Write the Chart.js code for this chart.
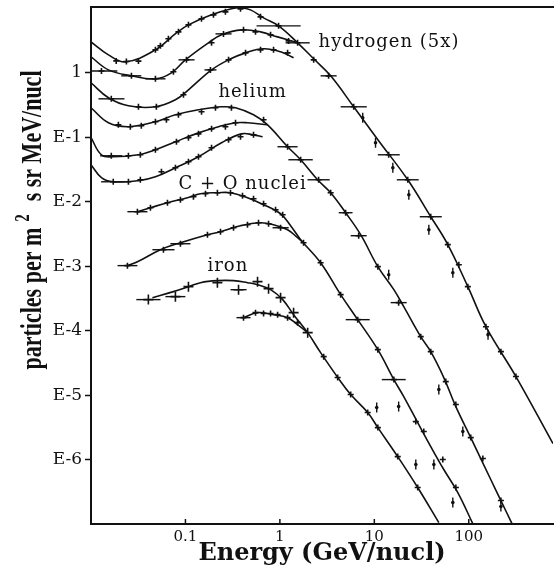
<!DOCTYPE html>
<html>
<head>
<meta charset="utf-8">
<script src="https://cdn.jsdelivr.net/npm/chart.js@4.4.0/dist/chart.umd.min.js"></script>
<style>
  html, body { margin: 0; padding: 0; background: #fff; }
</style>
</head>
<body>
<canvas id="spectrum" width="554" height="570"></canvas>
<script>
// axis ticks
const xTickValues = [0.1, 1, 10, 100];
const xTickLabels = ['0.1', '1', '10', '100'];
const yTickValues = [1, 1e-1, 1e-2, 1e-3, 1e-4, 1e-5, 1e-6];
const yTickLabels = ['1', 'E-1', 'E-2', 'E-3', 'E-4', 'E-5', 'E-6'];

// fitted curves (energy GeV/nucl, flux)
const hCurve1E = [0.01, 0.0153, 0.0232, 0.0481, 0.0803, 0.1076, 0.189, 0.307, 0.383, 0.489, 0.672, 0.969, 1.54, 2.28, 3.45, 6.05, 10.9, 22.6, 39.6, 60.0, 97.8, 152, 316, 780];
const hCurve1F = [3.02, 1.90, 1.48, 2.27, 4.17, 5.55, 7.93, 9.83, 10.2, 9.48, 7.12, 5.35, 2.92, 1.65, 0.898, 0.297, 0.0915, 0.0219, 0.00585, 0.00216, 0.000481, 0.000115, 0.0000194, 0.00000177];
const hCurve2E = [0.01, 0.0153, 0.0268, 0.0481, 0.0711, 0.1, 0.175, 0.241, 0.393, 0.624, 0.946, 1.54];
const hCurve2F = [1.77, 1.11, 0.898, 0.807, 1.0, 1.59, 2.92, 3.88, 4.64, 4.32, 3.61, 2.92];
const hCurve3E = [0.01, 0.0153, 0.0249, 0.0481, 0.0783, 0.1076, 0.189, 0.286, 0.433, 0.672, 1.017, 1.397];
const hCurve3F = [0.700, 0.410, 0.308, 0.297, 0.381, 0.545, 1.11, 1.59, 2.04, 2.36, 2.12, 1.71];

const heCurve1E = [0.01, 0.0153, 0.0249, 0.0481, 0.0783, 0.1374, 0.241, 0.339, 0.526, 0.741, 1.207, 1.66, 2.51, 3.45, 4.97, 7.17, 10.9, 16.1, 20.5, 31.0, 39.6, 54.4, 73.0, 105, 171, 219, 286];
const heCurve1F = [0.287, 0.168, 0.146, 0.174, 0.223, 0.267, 0.297, 0.287, 0.223, 0.156, 0.0713, 0.0448, 0.0219, 0.0138, 0.00675, 0.00308, 0.000983, 0.000432, 0.000236, 0.0000807, 0.0000472, 0.0000187, 0.00000664, 0.00000219, 0.00000049, 0.000000231, 0.000000102];
const heCurve2E = [0.01, 0.0129, 0.0172, 0.0318, 0.0481, 0.0783, 0.1374, 0.224, 0.339, 0.454, 0.741];
const heCurve2F = [0.0983, 0.0535, 0.0499, 0.0535, 0.0640, 0.0851, 0.117, 0.146, 0.168, 0.168, 0.156];
const heCurve3E = [0.01, 0.0129, 0.0172, 0.0318, 0.0481, 0.0783, 0.1374, 0.241, 0.393, 0.526, 0.656];
const heCurve3F = [0.0375, 0.0236, 0.0204, 0.0212, 0.0244, 0.0337, 0.0499, 0.0822, 0.113, 0.109, 0.102];

const coCurve1E = [0.031, 0.0426, 0.0645, 0.105, 0.1443, 0.218, 0.300, 0.454, 0.672, 1.017, 1.299, 1.66, 2.70, 4.40, 6.67, 10.9, 16.1, 20.5, 28.8, 39.6, 54.4, 76.6, 110];
const coCurve1F = [0.00700, 0.00807, 0.00965, 0.0115, 0.0133, 0.0138, 0.0138, 0.0115, 0.00898, 0.00651, 0.00425, 0.00258, 0.00113, 0.000362, 0.000148, 0.0000507, 0.0000174, 0.00000948, 0.00000375, 0.00000159, 0.0000007, 0.000000308, 0.000000102];
const coCurve2E = [0.0243, 0.031, 0.0543, 0.0885, 0.171, 0.235, 0.383, 0.624, 0.857, 1.207, 1.54, 1.78];
const coCurve2F = [0.00102, 0.00117, 0.00180, 0.00231, 0.00308, 0.00343, 0.00425, 0.00472, 0.00440, 0.00368, 0.00277, 0.00231];

const feCurve1E = [0.0447, 0.0746, 0.1076, 0.1443, 0.218, 0.323, 0.454, 0.580, 0.797, 1.07, 1.397, 1.97, 2.70, 4.40, 5.62, 8.51, 10.9, 17.7, 28.8, 48.2];
const feCurve1F = [0.000325, 0.000403, 0.000481, 0.000555, 0.000596, 0.000596, 0.000555, 0.000516, 0.000432, 0.000303, 0.000177, 0.0000931, 0.0000456, 0.0000162, 0.0000102, 0.00000536, 0.00000313, 0.00000111, 0.000000368, 0.000000105];
const feCurve2E = [0.412, 0.580, 0.857, 1.207, 1.54, 1.97];
const feCurve2F = [0.000159, 0.000190, 0.000177, 0.000159, 0.000124, 0.0000931];

// measured points, with energy bins where a bar is drawn
const hMarkE = [0.0185, 0.0237, 0.0318, 0.0481, 0.0543, 0.066, 0.0843, 0.1076, 0.148, 0.198, 0.265, 0.383, 0.624, 0.969, 1.54,
  0.0129, 0.0268, 0.0481, 0.0746, 0.1025, 0.189, 0.253, 0.412, 0.552, 0.797, 1.236,
  0.0164, 0.0318, 0.0492, 0.0953, 0.184, 0.286, 0.433, 0.624, 0.857, 1.207,
  2.28, 3.28, 6.05, 14.2, 22.6, 39.6, 60.0, 78.5, 97.8, 152, 219, 316];
const hMarkF = [1.53, 1.50, 1.52, 2.27, 2.62, 3.37, 4.32, 5.55, 6.87, 7.93, 8.83, 9.83, 7.38, 5.35, 2.92,
  1.07, 0.898, 0.807, 1.04, 1.59, 2.92, 4.02, 4.64, 4.32, 3.88, 3.13,
  0.395, 0.297, 0.297, 0.456, 1.11, 1.59, 2.04, 2.27, 2.27, 2.04,
  1.59, 0.898, 0.297, 0.0535, 0.0219, 0.00585, 0.00216, 0.00105, 0.000481, 0.000115, 0.0000472, 0.0000194];
const hBarLo = [null, null, null, null, null, null, null, null, null, null, null, null, null, 0.566, 1.15,
  0.0087, 0.0209, 0.0376, null, 0.0844, null, 0.208, null, null, null, null,
  0.012, null, null, null, 0.159, null, null, null, null, null,
  null, 2.70, 4.40, 10.9, 17.3, 30.3, null, null, null, null, null, null];
const hBarHi = [null, null, null, null, null, null, null, null, null, null, null, null, null, 1.66, 2.07,
  0.019, 0.0341, 0.0615, null, 0.125, null, 0.308, null, null, null, null,
  0.0226, null, null, null, 0.213, null, null, null, null, null,
  null, 3.99, 8.32, 18.6, 29.5, 51.8, null, null, null, null, null, null];

const heMarkE = [0.0195, 0.0261, 0.0341, 0.0481, 0.0629, 0.0843, 0.148, 0.208, 0.307,
  0.0164, 0.0249, 0.0333, 0.0481, 0.0803, 0.1076, 0.1374, 0.189, 0.265, 0.339,
  0.0172, 0.0249, 0.0333, 0.0557, 0.0783, 0.1076, 0.1374, 0.189, 0.286, 0.383, 0.526,
  0.672, 1.207, 1.66, 2.57, 3.45, 4.97, 6.83, 10.9, 18.1, 31.0, 39.6, 57.1, 73.0, 105, 141, 219];
const heMarkF = [0.156, 0.146, 0.151, 0.174, 0.187, 0.223, 0.249, 0.287, 0.287,
  0.0516, 0.0516, 0.0535, 0.064, 0.0851, 0.0983, 0.113, 0.135, 0.146, 0.168,
  0.0204, 0.0204, 0.0219, 0.0292, 0.0337, 0.0417, 0.0499, 0.0688, 0.0915, 0.102, 0.109,
  0.187, 0.0713, 0.0448, 0.0219, 0.0138, 0.00675, 0.00297, 0.000983, 0.000272, 0.0000807, 0.0000472, 0.0000162, 0.00000713, 0.00000219, 0.00000104, 0.000000231];
const heBarLo = [null, null, null, null, null, null, null, null, null,
  0.0125, null, null, null, null, null, null, null, null, null,
  0.0128, null, null, null, null, null, null, null, null, null, null,
  null, 0.943, 1.23, 1.96, null, 4.20, 5.62, null, 14.9, null, null, null, null, null, null, null];
const heBarHi = [null, null, null, null, null, null, null, null, null,
  0.0214, null, null, null, null, null, null, null, null, null,
  0.023, null, null, null, null, null, null, null, null, null, null,
  null, 1.54, 2.23, 3.37, null, 5.88, 8.30, null, 22.0, null, null, null, null, null, null, null];

const coMarkE = [0.031, 0.0426, 0.0645, 0.0885, 0.1216, 0.163, 0.218, 0.300, 0.402, 0.526, 0.672, 0.900, 1.07,
  0.0243, 0.0585, 0.0885, 0.171, 0.235, 0.323, 0.454, 0.594, 0.759, 1.017,
  1.78, 2.70, 4.40, 6.67, 10.9, 16.1, 27.5, 33.4, 53.1, 73.0];
const coMarkF = [0.007, 0.00807, 0.00965, 0.0107, 0.012, 0.0133, 0.0138, 0.0138, 0.0124, 0.0111, 0.00931, 0.00752, 0.00629,
  0.00102, 0.0018, 0.00223, 0.00308, 0.00343, 0.00395, 0.0044, 0.00472, 0.00456, 0.00395,
  0.00231, 0.00113, 0.000362, 0.000148, 0.0000507, 0.0000174, 0.00000388, 0.00000272, 0.000001, 0.000000368];
const coBarLo = [0.0243, null, null, null, null, null, null, null, null, null, null, null, null,
  0.0191, 0.0447, 0.0692, null, null, null, null, null, null, 0.837,
  null, null, null, 4.98, null, 12.0, null, null, null, null];
const coBarHi = [0.0396, null, null, null, null, null, null, null, null, null, null, null, null,
  0.031, 0.0766, 0.113, null, null, null, null, null, null, 1.24,
  null, null, null, 8.93, null, 21.5, null, null, null, null];

const feMarkE = [0.0405, 0.0783, 0.1076, 0.218, 0.365, 0.580, 0.759, 1.017, 1.397, 1.97,
  0.412, 0.552, 0.672, 0.797, 0.946, 1.207, 1.54,
  2.91, 4.09, 5.62, 8.51, 10.9, 17.7, 28.8];
const feMarkF = [0.000303, 0.000337, 0.000481, 0.000555, 0.000432, 0.000575, 0.000448, 0.000325, 0.00019, 0.0000931,
  0.000159, 0.00019, 0.000184, 0.000184, 0.000177, 0.000159, 0.000133,
  0.0000395, 0.0000187, 0.0000102, 0.00000536, 0.00000313, 0.00000111, 0.000000368];
const feBarLo = [0.0302, 0.0614, null, null, 0.300, null, null, null, null, null,
  0.347, null, null, null, null, null, null,
  null, null, null, null, null, null, null];
const feBarHi = [0.0544, 0.0999, null, null, 0.444, null, null, null, null, null,
  0.489, null, null, null, null, null, null,
  null, null, null, null, null, null, null];

// scattered points off the curves (vertical error bars)
const offMarkE = [7.54, 10.3, 15.7, 23.2, 37.8, 67.8, 160, 14.2, 48.2, 86.5, 219, 10.6, 18.1, 27.5, 42.7, 67.8];
const offMarkF = [0.201, 0.0822, 0.0337, 0.0128, 0.00368, 0.000793, 0.0000867, 0.000738, 0.0000122, 0.00000272, 0.000000187, 0.0000064, 0.00000664, 0.000000836, 0.000000836, 0.000000216];

// curve labels
const labelText = ['hydrogen (5x)', 'helium', 'C + O nuclei', 'iron'];
const labelE = [2.57, 0.224, 0.0843, 0.171];
const labelF = [2.92, 0.49, 0.0184, 0.000983];

const ink = '#111';

function pts(E, F) {
  return E.map((e, i) => ({ x: e, y: F[i] }));
}

function curve(E, F) {
  return {
    data: pts(E, F),
    showLine: true,
    pointRadius: 0,
    borderColor: ink,
    borderWidth: 1.6,
    tension: 0.4,
    fill: false
  };
}

function marks(E, F, lo, hi, big) {
  return {
    data: pts(E, F),
    showLine: false,
    pointStyle: 'cross',
    pointRadius: c => (c.dataIndex < big ? 5 : 3),
    borderColor: ink,
    borderWidth: 1.6,
    barLo: lo,
    barHi: hi
  };
}

// horizontal bars, top frame line, inward x ticks, y title, curve labels
const decorPlugin = {
  id: 'decor',
  afterDatasetsDraw(chart) {
    const { ctx, chartArea, scales: { x, y } } = chart;
    ctx.save();
    ctx.beginPath();
    ctx.rect(chartArea.left, chartArea.top, chartArea.right - chartArea.left, chartArea.bottom - chartArea.top);
    ctx.clip();
    ctx.strokeStyle = ink;
    ctx.lineWidth = 1.4;
    chart.data.datasets.forEach(ds => {
      if (!ds.barLo) return;
      ds.data.forEach((p, i) => {
        if (ds.barLo[i] == null) return;
        const py = y.getPixelForValue(p.y);
        ctx.beginPath();
        ctx.moveTo(x.getPixelForValue(ds.barLo[i]), py);
        ctx.lineTo(x.getPixelForValue(ds.barHi[i]), py);
        ctx.stroke();
      });
    });
    ctx.restore();
  },
  afterDraw(chart) {
    const { ctx, chartArea, scales: { x, y } } = chart;
    ctx.save();
    ctx.strokeStyle = ink;
    ctx.lineWidth = 2;
    ctx.beginPath();
    ctx.moveTo(chartArea.left - 1, chartArea.top);
    ctx.lineTo(chartArea.right + 1, chartArea.top);
    ctx.stroke();

    ctx.lineWidth = 1.5;
    xTickValues.forEach(v => {
      const px = x.getPixelForValue(v);
      ctx.beginPath();
      ctx.moveTo(px, chartArea.bottom);
      ctx.lineTo(px, chartArea.bottom - 5);
      ctx.stroke();
    });

    // curve labels
    ctx.fillStyle = ink;
    ctx.font = '18px "DejaVu Serif"';
    ctx.textAlign = 'left';
    ctx.textBaseline = 'middle';
    ctx.letterSpacing = '1px';
    labelText.forEach((t, i) => {
      ctx.fillText(t, x.getPixelForValue(labelE[i]), y.getPixelForValue(labelF[i]));
    });
    ctx.letterSpacing = '0px';

    // y axis title with raised 2
    const part1 = 'particles per m';
    const part2 = '2';
    const part3 = '  s sr MeV/nucl';
    const bigFont = 'bold 22px "Liberation Serif"';
    const smallFont = 'bold 15px "Liberation Serif"';
    ctx.font = bigFont;
    const w1 = ctx.measureText(part1).width;
    const w3 = ctx.measureText(part3).width;
    ctx.font = smallFont;
    const w2 = ctx.measureText(part2).width + 8;
    const total = w1 + w2 + w3;
    ctx.translate(41, 220);
    ctx.rotate(-Math.PI / 2);
    ctx.scale(1, 1.35);
    ctx.textBaseline = 'alphabetic';
    ctx.font = bigFont;
    ctx.fillText(part1, -total / 2, 0);
    ctx.font = smallFont;
    ctx.fillText(part2, -total / 2 + w1 + 6, -9);
    ctx.font = bigFont;
    ctx.fillText(part3, -total / 2 + w1 + w2, 0);
    ctx.restore();
  }
};

new Chart(document.getElementById('spectrum'), {
  type: 'scatter',
  data: {
    datasets: [
      curve(hCurve1E, hCurve1F),
      curve(hCurve2E, hCurve2F),
      curve(hCurve3E, hCurve3F),
      curve(heCurve1E, heCurve1F),
      curve(heCurve2E, heCurve2F),
      curve(heCurve3E, heCurve3F),
      curve(coCurve1E, coCurve1F),
      curve(coCurve2E, coCurve2F),
      curve(feCurve1E, feCurve1F),
      curve(feCurve2E, feCurve2F),
      marks(hMarkE, hMarkF, hBarLo, hBarHi, 0),
      marks(heMarkE, heMarkF, heBarLo, heBarHi, 0),
      marks(coMarkE, coMarkF, coBarLo, coBarHi, 0),
      marks(feMarkE, feMarkF, feBarLo, feBarHi, 10),
      {
        data: pts(offMarkE, offMarkF),
        showLine: false,
        pointStyle: 'line',
        rotation: 90,
        pointRadius: 5,
        borderColor: ink,
        borderWidth: 1.4
      },
      {
        data: pts(offMarkE, offMarkF),
        showLine: false,
        pointStyle: 'circle',
        pointRadius: 1.8,
        backgroundColor: ink,
        borderColor: ink,
        borderWidth: 0
      }
    ]
  },
  plugins: [decorPlugin],
  options: {
    responsive: false,
    animation: false,
    devicePixelRatio: 1,
    layout: { autoPadding: false, padding: { top: 7, right: 1, left: 0, bottom: 0 } },
    plugins: {
      legend: { display: false },
      tooltip: { enabled: false }
    },
    scales: {
      x: {
        type: 'logarithmic',
        min: 0.01,
        max: 780,
        afterBuildTicks: s => { s.ticks = xTickValues.map(v => ({ value: v })); },
        afterFit: s => { s.height = 46; s.paddingLeft = 0; s.paddingRight = 0; },
        grid: { display: false, drawTicks: false },
        border: { display: true, color: ink, width: 2 },
        ticks: {
          autoSkip: false,
          maxRotation: 0,
          padding: 4,
          color: ink,
          font: { family: 'DejaVu Serif', size: 15 },
          callback: (v, i) => xTickLabels[i]
        },
        title: {
          display: true,
          text: 'Energy (GeV/nucl)',
          color: ink,
          padding: { top: 0, bottom: 2 },
          font: { family: 'DejaVu Serif', size: 24, weight: 'bold' }
        }
      },
      y: {
        type: 'logarithmic',
        min: 1e-7,
        max: 10.5,
        afterBuildTicks: s => { s.ticks = yTickValues.map(v => ({ value: v })); },
        afterFit: s => { s.width = 91; s.paddingTop = 0; s.paddingBottom = 0; },
        grid: { display: true, drawOnChartArea: false, tickLength: 6, tickColor: ink, tickWidth: 1.5 },
        border: { display: true, color: ink, width: 2 },
        ticks: {
          autoSkip: false,
          padding: 3,
          color: ink,
          font: { family: 'DejaVu Serif', size: 17 },
          callback: (v, i) => yTickLabels[i]
        }
      }
    }
  }
});
</script>
</body>
</html>
